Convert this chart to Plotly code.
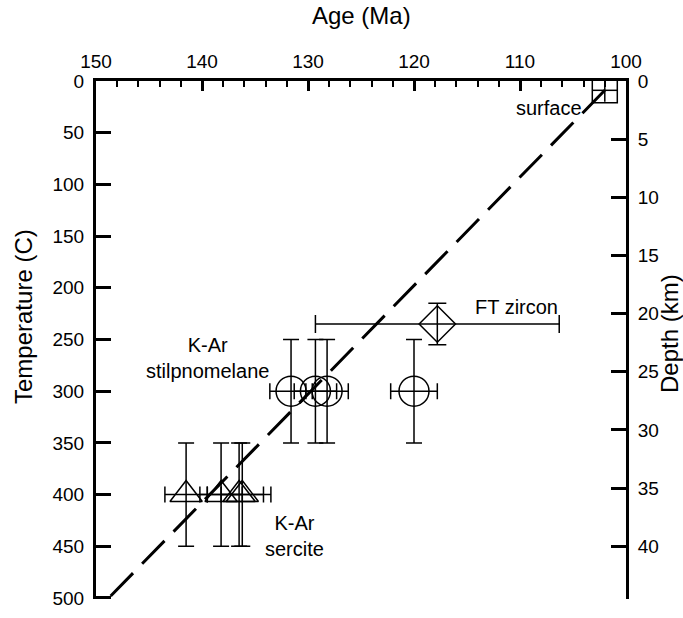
import plotly.graph_objects as go

# Cooling / burial history: age (Ma) against temperature (C)
GRADIENT = 11.25  # C per km, links the depth axis to temperature
T_MAX = 501       # a hair past 500 so the last tick stays inside the range

surface_age = [102.0]
surface_temp = [9]
surface_age_err = [1.2]
surface_temp_err = [11]

zircon_age = [117.8]
zircon_temp = [235]
zircon_age_err = [11.5]
zircon_temp_err = [20]

stilp_age = [131.6, 129.3, 128.2, 120.0]
stilp_temp = [300, 300, 300, 300]
stilp_age_err = [2, 2, 2, 2.2]
stilp_temp_err = [50, 50, 50, 50]

sercite_age = [141.5, 138.2, 136.5, 136.2]
sercite_temp = [400, 400, 400, 400]
sercite_age_err = [2, 2, 3, 2]
sercite_temp_err = [50, 50, 50, 50]

trend_age = [102.0, 148.8]
trend_temp = [9, 500]

age_ticks = [150, 140, 130, 120, 110, 100]
temp_ticks = [0, 50, 100, 150, 200, 250, 300, 350, 400, 450, 500]
depth_ticks = [0, 5, 10, 15, 20, 25, 30, 35, 40]

FONT = "Liberation Sans, Arial, sans-serif"
BLACK = "black"


def err(vals, w):
    return dict(type="data", array=vals, visible=True, color=BLACK,
                thickness=1.5, width=w)


fig = go.Figure()

fig.add_trace(go.Scatter(
    x=trend_age, y=trend_temp, mode="lines",
    line=dict(color=BLACK, width=3, dash="32px,13px"),
    hoverinfo="skip", showlegend=False))

fig.add_trace(go.Scatter(
    x=surface_age, y=surface_temp, mode="markers",
    marker=dict(symbol="square-open", size=25, color=BLACK,
                line=dict(width=1.5, color=BLACK)),
    error_x=err(surface_age_err, 0), error_y=err(surface_temp_err, 0),
    showlegend=False))

fig.add_trace(go.Scatter(
    x=zircon_age, y=zircon_temp, mode="markers",
    marker=dict(symbol="diamond-open", size=28, color=BLACK,
                line=dict(width=1.5, color=BLACK)),
    error_x=err(zircon_age_err, 9), error_y=err(zircon_temp_err, 9),
    showlegend=False))

fig.add_trace(go.Scatter(
    x=stilp_age, y=stilp_temp, mode="markers",
    marker=dict(symbol="circle-open", size=30, color=BLACK,
                line=dict(width=1.5, color=BLACK)),
    error_x=err(stilp_age_err, 8), error_y=err(stilp_temp_err, 8),
    showlegend=False))

fig.add_trace(go.Scatter(
    x=sercite_age, y=sercite_temp, mode="markers",
    marker=dict(symbol="triangle-up-open", size=28, color=BLACK,
                line=dict(width=1.5, color=BLACK)),
    error_x=err(sercite_age_err, 8), error_y=err(sercite_temp_err, 8),
    showlegend=False))

# empty trace so the depth axis is drawn
fig.add_trace(go.Scatter(x=[None], y=[None], yaxis="y2",
                         showlegend=False, hoverinfo="skip"))

labels = [
    (104.0, 26, "surface", "right"),
    (110.3, 219, "FT zircon", "center"),
    (139.5, 268, "K-Ar<br>stilpnomelane", "center"),
    (131.3, 440, "K-Ar<br>sercite", "center"),
]
for ax, ty, txt, anchor in labels:
    fig.add_annotation(x=ax, y=ty, text=txt, showarrow=False,
                       xanchor=anchor, yanchor="middle",
                       font=dict(family=FONT, size=20, color=BLACK))

# axis titles
TITLE_FONT = dict(family=FONT, size=24, color=BLACK)
fig.add_annotation(text="Age (Ma)", xref="paper", yref="paper",
                   x=0.5, y=1, yshift=66, showarrow=False,
                   xanchor="center", yanchor="middle", font=TITLE_FONT)
fig.add_annotation(text="Temperature (C)", xref="paper", yref="paper",
                   x=0, y=1, xshift=-73, yshift=-236, textangle=-90,
                   showarrow=False, xanchor="center", yanchor="middle",
                   font=TITLE_FONT)
fig.add_annotation(text="Depth (km)", xref="paper", yref="paper",
                   x=1, y=1, xshift=43, yshift=-253, textangle=-90,
                   showarrow=False, xanchor="center", yanchor="middle",
                   font=TITLE_FONT)

fig.update_layout(
    width=683, height=618,
    margin=dict(l=96, r=57, t=81, b=9),
    paper_bgcolor="white", plot_bgcolor="white",
    font=dict(family=FONT, size=19, color=BLACK),
    xaxis=dict(
        side="top", range=[150, 100], tickvals=age_ticks,
        ticks="inside", ticklen=10, tickwidth=3, tickcolor=BLACK,
        minor=dict(dtick=2, ticks="inside", ticklen=6, tickwidth=2,
                   tickcolor=BLACK),
        showline=True, linewidth=3, linecolor=BLACK,
        showgrid=False, zeroline=False, ticklabelstandoff=2,
    ),
    yaxis=dict(
        range=[T_MAX, 0], tickvals=temp_ticks,
        ticks="inside", ticklen=15, tickwidth=3, tickcolor=BLACK,
        showline=True, linewidth=3, linecolor=BLACK,
        showgrid=False, zeroline=False, ticklabelstandoff=5,
        ticklabeloverflow="allow",
    ),
    yaxis2=dict(
        overlaying="y", side="right",
        range=[T_MAX / GRADIENT, 0], tickvals=depth_ticks,
        ticks="inside", ticklen=15, tickwidth=3, tickcolor=BLACK,
        showline=True, linewidth=3, linecolor=BLACK,
        showgrid=False, zeroline=False, ticklabelstandoff=5,
    ),
)

fig.write_html("out.html")
